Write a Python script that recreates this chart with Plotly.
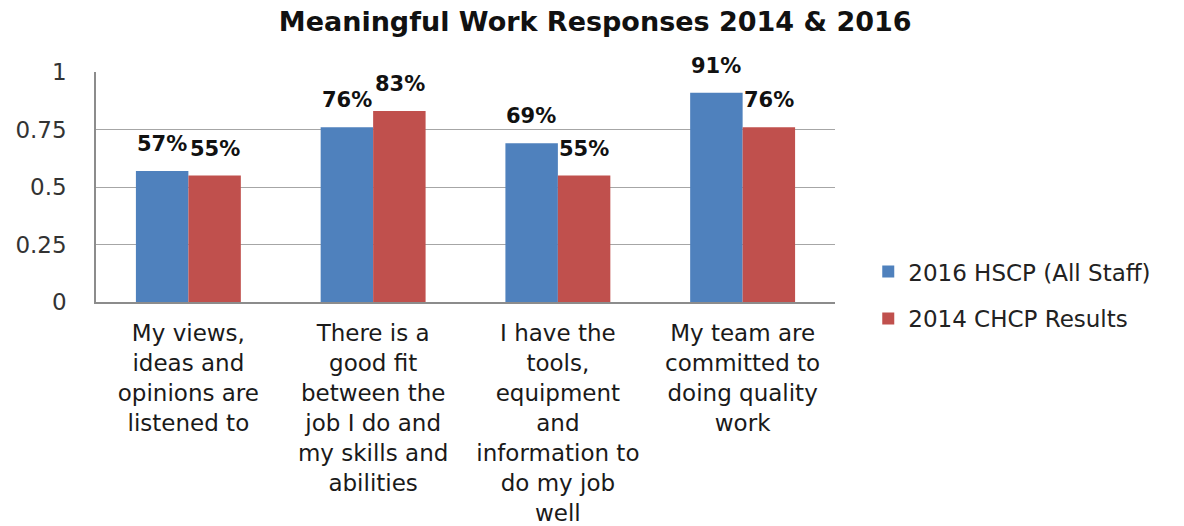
import plotly.graph_objects as go

categories = [
    "My views,<br>ideas and<br>opinions are<br>listened to",
    "There is a<br>good fit<br>between the<br>job I do and<br>my skills and<br>abilities",
    "I have the<br>tools,<br>equipment<br>and<br>information to<br>do my job<br>well",
    "My team are<br>committed to<br>doing quality<br>work",
]
series_2016 = [0.57, 0.76, 0.69, 0.91]
series_2014 = [0.55, 0.83, 0.55, 0.76]
name_2016 = "2016 HSCP (All Staff)"
name_2014 = "2014 CHCP Results"
y_ticks = [0, 0.25, 0.5, 0.75, 1]
y_tick_labels = ["0", "0.25", "0.5", "0.75", "1"]

BLUE = "#4F81BD"
RED = "#C0504D"
FONT = "DejaVu Sans"

fig = go.Figure()
fig.add_trace(go.Bar(x=categories, y=series_2016, name=name_2016,
                     marker=dict(color=BLUE, line=dict(width=0)), legendgroup="a"))
fig.add_trace(go.Bar(x=categories, y=series_2014, name=name_2014,
                     marker=dict(color=RED, line=dict(width=0)), legendgroup="b"))

half = 26.5
for vals, sh in ((series_2016, -half), (series_2014, half)):
    for c, v in zip(categories, vals):
        fig.add_annotation(x=c, y=v, text=f"{round(v*100)}%", showarrow=False,
                           xref="x", yref="y", xshift=sh, yshift=13,
                           yanchor="bottom", xanchor="center",
                           font=dict(family=FONT, size=21, color="#111111", weight="bold"))

fig.update_layout(
    width=1184, height=526,
    margin=dict(l=96, r=349, t=72, b=224, autoexpand=False),
    paper_bgcolor="white", plot_bgcolor="white",
    barmode="group", bargap=0.432, bargroupgap=0,
    title=dict(text="<b>Meaningful Work Responses 2014 & 2016</b>",
               x=0.5027, xanchor="center", y=1 - 22/526, yanchor="middle",
               font=dict(family=FONT, size=27, color="#111111")),
    legend=dict(x=1.045, xanchor="left", y=0.03, yanchor="middle",
                font=dict(family=FONT, size=23, color="#222222"),
                traceorder="grouped", tracegroupgap=14,
                bgcolor="rgba(0,0,0,0)"),
    showlegend=True,
)
fig.update_xaxes(showline=True, linecolor="#8C8C8C", linewidth=1.5,
                 tickfont=dict(family=FONT, size=23, color="#1a1a1a"),
                 ticks="", showgrid=False, ticklabelstandoff=10, automargin=False)
fig.update_yaxes(range=[0, 1], tickvals=y_ticks, ticktext=y_tick_labels,
                 showline=True, linecolor="#8C8C8C", linewidth=1.5,
                 showgrid=True, gridcolor="#A6A6A6", gridwidth=1.2,
                 zeroline=False, ticks="", automargin=False,
                 tickfont=dict(family=FONT, size=23, color="#333333"),
                 ticklabelstandoff=23)

fig.write_html("out.html")
